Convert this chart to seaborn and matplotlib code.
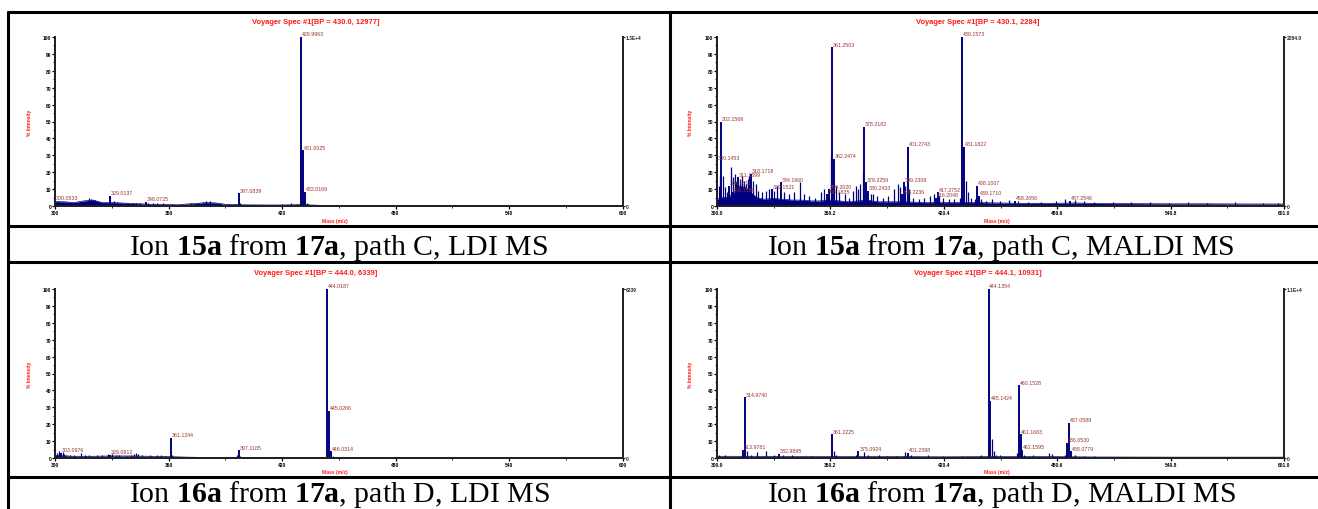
import matplotlib
matplotlib.use("Agg")
import matplotlib.pyplot as plt
import seaborn as sns
from matplotlib.lines import Line2D

# ---- data ----
# ion 15a, path C, LDI
a_peak_mz = [300.0533, 329.0137, 348.0725, 397.0839, 429.9963, 431.0025, 432.0169]
a_peak_int = [3.5, 6, 2.5, 7.5, 100, 33, 8.5]
a_minor_mz = [301, 302, 304, 306, 308, 311, 313, 316, 318, 319, 320, 321, 322, 324, 326,
              331, 333, 335, 338, 341, 343, 345, 349, 352, 354, 357, 362, 367, 372, 376,
              378, 380, 382, 384, 388, 392, 395, 398, 404, 410, 415, 420, 425, 428, 433,
              434, 438, 445, 460, 470, 510, 545, 580]
a_minor_int = [3, 3, 2.5, 2, 2, 2.5, 1.5, 2, 4.5, 4, 3.5, 3.5, 3, 2.5, 2,
               3, 2.5, 2, 1.5, 2, 1.5, 1.5, 1.5, 1.5, 1.8, 1.5, 1.2, 1, 1.5, 2,
               2.5, 3, 3, 2, 1, 1, 1, 2, 0.8, 0.7, 0.8, 1, 1.5, 1, 2,
               1, 0.6, 0.5, 0.4, 0.4, 0.5, 0.4, 0.4]
a_base_mz = [300, 305, 310, 315, 320, 325, 330, 335, 340, 345, 350, 355, 360, 365, 370,
             375, 380, 385, 390, 395, 400, 410, 420, 430, 440, 460, 500, 550, 600]
a_base_int = [2.5, 2.5, 2, 3, 3.5, 2, 2, 1.8, 1.5, 1.3, 1, 1, 0.8, 0.7, 1.2,
              1.5, 2, 1.8, 1, 0.8, 0.7, 0.6, 0.6, 0.8, 0.4, 0.3, 0.3, 0.3, 0.3]

# ion 15a, path C, MALDI
b_peak_mz = [300.1453, 302.1569, 306.1611, 308.1586, 311.1399, 318.1718, 329.1521,
             334.1660, 359.2020, 358.1835, 361.2503, 362.2474, 378.2182, 379.2259,
             380.2433, 398.2236, 399.2308, 401.2743, 416.2048, 417.2752, 430.1573,
             431.1822, 438.1007, 439.1710, 458.2656, 487.2546]
b_peak_int = [27, 50, 12, 8, 17, 19, 10, 14, 10, 7, 94, 28, 47, 14,
              9, 7, 14, 35, 5, 8, 100, 35, 12, 6, 3, 3]
b_minor_mz = [300.8, 301.5, 303.2, 304.0, 305.5, 307.2, 308.5, 309.5, 310.2, 312.3, 313.1,
              314.3, 315.5, 316.5, 317.2, 319.2, 320.5, 322, 324, 326, 327.5, 330.5, 332,
              335.5, 338, 341, 344, 346, 349, 352, 355, 357, 360.5, 363, 365, 368, 370,
              372, 374, 375, 376, 377.3, 381.5, 383, 385, 388, 391, 394, 396, 397, 400,
              402, 404, 407, 410, 413, 415, 418, 420, 423, 426, 429, 432, 433, 435, 437,
              440, 443, 446, 450, 455, 460, 465, 472, 480, 485, 490, 495, 500, 510, 520,
              530, 540, 550, 560, 575, 590, 598]
b_minor_int = [12, 18, 18, 11, 8, 23, 17, 19, 14, 16, 18,
               15, 13, 16, 18, 15, 13, 9, 8, 9, 10, 9, 12,
               8, 7, 8, 14, 7, 6, 5, 8, 10, 30, 12, 8, 7, 5,
               9, 12, 10, 13, 20, 7, 7, 6, 5, 6, 10, 13, 11, 12,
               10, 5, 4, 5, 6, 7, 6, 5, 4, 4, 5, 15, 8, 5, 4,
               4, 3, 4, 3, 3.5, 3, 2.5, 2.5, 3, 4, 3.5, 3, 2.5, 2.5, 2.5,
               2.5, 2, 2.5, 2, 2.5, 2, 2]
b_base_mz = [300, 303, 306, 309, 312, 315, 318, 321, 325, 330, 335, 340, 345, 350, 355,
             360, 365, 370, 375, 380, 385, 390, 395, 400, 410, 420, 430, 440, 450, 460,
             470, 480, 490, 500, 520, 540, 560, 580, 601]
b_base_int = [4, 5, 5, 8, 12, 11, 8, 5, 4, 4.5, 4, 3.5, 3.5, 3, 3,
              3.5, 3, 2.5, 3, 3.5, 2.5, 2.5, 2.5, 2.5, 2, 2, 2, 2, 1.8, 1.6,
              1.6, 1.6, 1.8, 1.5, 1.4, 1.3, 1.3, 1.2, 1.2]

# ion 16a, path D, LDI
c_peak_mz = [303.0976, 329.0812, 361.1244, 397.1165, 444.0187, 445.0266, 446.0314]
c_peak_int = [3, 2, 12, 4.5, 100, 28, 4]
c_minor_mz = [301, 302, 304, 305, 306, 308, 310, 314, 316, 318, 322, 325, 328, 330, 332,
              334, 338, 340, 342, 343, 344, 346, 350, 354, 356, 358, 362, 365, 370, 375,
              380, 385, 390, 396, 398, 405, 415, 425, 435, 443, 447, 450, 460, 475, 490,
              510, 530, 560, 580]
c_minor_int = [3, 4, 3.5, 2.5, 2, 1.5, 1.5, 3, 1.5, 1.5, 1.5, 1.5, 2.5, 2.5, 2,
               1.5, 1, 1.5, 2.5, 3, 2.5, 1.5, 1.5, 1.5, 1.8, 1, 1.5, 0.8, 0.7, 0.6,
               0.6, 0.6, 0.5, 2, 1, 0.5, 0.5, 0.5, 0.5, 0.8, 1, 0.5, 0.4, 0.4, 0.4,
               0.4, 0.4, 0.4, 0.4]
c_base_mz = [300, 310, 320, 330, 340, 350, 360, 370, 380, 400, 440, 500, 600]
c_base_int = [1.5, 1, 1, 1.2, 1.2, 1, 0.8, 0.5, 0.3, 0.3, 0.3, 0.25, 0.25]

# ion 16a, path D, MALDI
d_peak_mz = [313.9781, 314.9740, 332.9895, 361.2225, 375.0924, 401.2398, 444.1354,
             445.1424, 460.1528, 461.1683, 462.1595, 486.0530, 487.0589, 488.0779]
d_peak_int = [5, 36, 2.5, 14, 4, 3, 100, 34, 43, 14, 5, 9, 21, 4]
d_minor_mz = [301, 304, 316, 318, 321, 326, 330, 335, 340, 345, 350, 362, 363, 374, 378,
              380, 386, 390, 395, 400, 403, 412, 420, 430, 440, 446, 447, 448, 450, 459.5,
              463, 468, 476, 478, 485, 490, 495, 500, 520, 540, 555, 570, 580, 590]
d_minor_int = [1.5, 2, 4, 2, 3.5, 4, 2, 1.5, 1.5, 1, 1, 4, 2, 2, 3.5,
               2, 2, 1, 1, 3.5, 2, 2, 1, 1, 1.5, 11, 4, 2, 1.5, 3,
               2, 1.5, 3, 2.5, 2, 1.5, 1, 1, 0.8, 0.8, 0.8, 0.7, 0.8, 0.6]
d_base_mz = [300, 320, 340, 360, 380, 400, 420, 440, 460, 480, 500, 540, 601]
d_base_int = [1, 1, 0.9, 0.8, 0.8, 0.8, 0.7, 0.8, 0.8, 0.8, 0.6, 0.5, 0.5]

ldi_ticks = [300, 360, 420, 480, 540, 600]
maldi_ticks = [300.0, 360.2, 420.4, 480.6, 540.8, 601.0]
y_ticks = [0, 10, 20, 30, 40, 50, 60, 70, 80, 90, 100]

titles = ["Voyager Spec #1[BP = 430.0, 12977]", "Voyager Spec #1[BP = 430.1, 2284]",
          "Voyager Spec #1[BP = 444.0, 6339]", "Voyager Spec #1[BP = 444.1, 10931]"]
right_labels = ["1.3E+4", "2284.0", "6339", "1.1E+4"]
captions = [r"Ion $\mathbf{15a}$ from $\mathbf{17a}$, path C, LDI MS",
            r"Ion $\mathbf{15a}$ from $\mathbf{17a}$, path C, MALDI MS",
            r"Ion $\mathbf{16a}$ from $\mathbf{17a}$, path D, LDI MS",
            r"Ion $\mathbf{16a}$ from $\mathbf{17a}$, path D, MALDI MS"]

NAVY = "#00007f"
PEAK_RED = "#993333"
RED = "#ff1a1a"

sns.set_theme(style="ticks")
plt.rcParams["font.family"] = ["Liberation Sans", "DejaVu Sans"]
plt.rcParams["mathtext.fontset"] = "custom"
plt.rcParams["mathtext.rm"] = "Liberation Serif"
plt.rcParams["mathtext.bf"] = "Liberation Serif:bold"

W, H = 1318, 510
fig = plt.figure(figsize=(W / 100, H / 100), dpi=100)
fig.patch.set_facecolor("white")


def axes_px(left, top, right, bottom):
    return fig.add_axes([left / W, 1 - bottom / H, (right - left) / W, (bottom - top) / H])


def draw_spectrum(ax, peak_mz, peak_int, minor_mz, minor_int, base_mz, base_int,
                  ticks, fmt, title, right_label):
    xmin, xmax = ticks[0], ticks[-1]
    ax.fill_between(base_mz, 0, base_int, color=NAVY, lw=0)
    sns.lineplot(x=base_mz, y=base_int, ax=ax, color=NAVY, lw=0.5)
    ax.vlines(minor_mz, 0, minor_int, color=NAVY, lw=0.9)
    ax.vlines(peak_mz, 0, peak_int, color=NAVY, lw=1.4, clip_on=False)
    for m, h in zip(peak_mz, peak_int):
        ax.annotate("{:.4f}".format(m), (m, h), xytext=(0.6, 0.4), textcoords="offset points",
                    fontsize=3.8, color=PEAK_RED, ha="left", va="bottom")

    ax.set_xlim(xmin, xmax)
    ax.set_ylim(0, 100)
    ax.set_xticks(ticks)
    ax.set_xticklabels([fmt.format(t) for t in ticks], fontweight="bold")
    ax.set_xticks([(a + b) / 2 for a, b in zip(ticks[:-1], ticks[1:])], minor=True)
    ax.set_yticks(y_ticks)
    ax.set_yticklabels([str(t) for t in y_ticks], fontweight="bold")
    ax.set_yticks([t + 5 for t in y_ticks[:-1]], minor=True)
    ax.tick_params(which="major", direction="out", length=2.2, width=0.9,
                   labelsize=3.5, pad=0.6, colors="black")
    ax.tick_params(which="minor", direction="out", length=1.3, width=0.7)
    ax.set_xlabel("")
    ax.set_ylabel("")
    for side in ["left", "bottom", "right"]:
        ax.spines[side].set_linewidth(1.4)
        ax.spines[side].set_color("black")
    ax.spines["top"].set_visible(False)

    ax2 = ax.twinx()
    ax2.set_ylim(0, 100)
    ax2.set_yticks([0, 100])
    ax2.set_yticklabels(["0", right_label], fontweight="bold")
    ax2.tick_params(direction="out", length=1.6, width=0.9, labelsize=3.5, pad=0.6)
    ax2.spines["top"].set_visible(False)
    ax2.spines["right"].set_linewidth(1.4)
    ax2.grid(False)

    wpx = ax.get_position().width * W
    hpx = ax.get_position().height * H
    ax.text(0.5 - 23 / wpx, 1 + 16 / hpx, title, transform=ax.transAxes, ha="center",
            va="center", fontsize=5.4, fontweight="bold", color=RED)
    ax.text(0.5 - 4 / wpx, -14 / hpx, "Mass (m/z)", transform=ax.transAxes, ha="center",
            va="center", fontsize=3.6, fontweight="bold", color=RED)
    ax.text(-26 / wpx, 0.5, "% Intensity", transform=ax.transAxes, ha="center",
            va="center", rotation=90, fontsize=3.6, fontweight="bold", color=RED)


panels = [
    (axes_px(55, 38, 622.5, 207), a_peak_mz, a_peak_int, a_minor_mz, a_minor_int,
     a_base_mz, a_base_int, ldi_ticks, "{:d}"),
    (axes_px(717, 38, 1284, 207), b_peak_mz, b_peak_int, b_minor_mz, b_minor_int,
     b_base_mz, b_base_int, maldi_ticks, "{:.1f}"),
    (axes_px(55, 290, 622.5, 459), c_peak_mz, c_peak_int, c_minor_mz, c_minor_int,
     c_base_mz, c_base_int, ldi_ticks, "{:d}"),
    (axes_px(717, 290, 1284, 459), d_peak_mz, d_peak_int, d_minor_mz, d_minor_int,
     d_base_mz, d_base_int, maldi_ticks, "{:.1f}"),
]
for i, (ax, pm, pi, mm, mi, bm, bi, ticks, fmt) in enumerate(panels):
    draw_spectrum(ax, pm, pi, mm, mi, bm, bi, ticks, fmt, titles[i], right_labels[i])

# captions under each spectrum
cap_pos = [(339, 255), (1001, 255), (339, 502), (1001, 502)]
for (cx, cy), cap in zip(cap_pos, captions):
    fig.text(cx / W, 1 - cy / H, cap, ha="center", va="baseline", fontsize=21.5,
             family="Liberation Serif", color="black")

# table frame
lw = 2.2
for y in [13, 227, 263, 478]:
    fig.add_artist(Line2D([8 / W, 1], [1 - y / H, 1 - y / H], color="black", lw=lw))
for x in [8, 670]:
    fig.add_artist(Line2D([x / W, x / W], [0, 1 - 13 / H], color="black", lw=lw))

fig.savefig("out.png", dpi=100, facecolor="white")
